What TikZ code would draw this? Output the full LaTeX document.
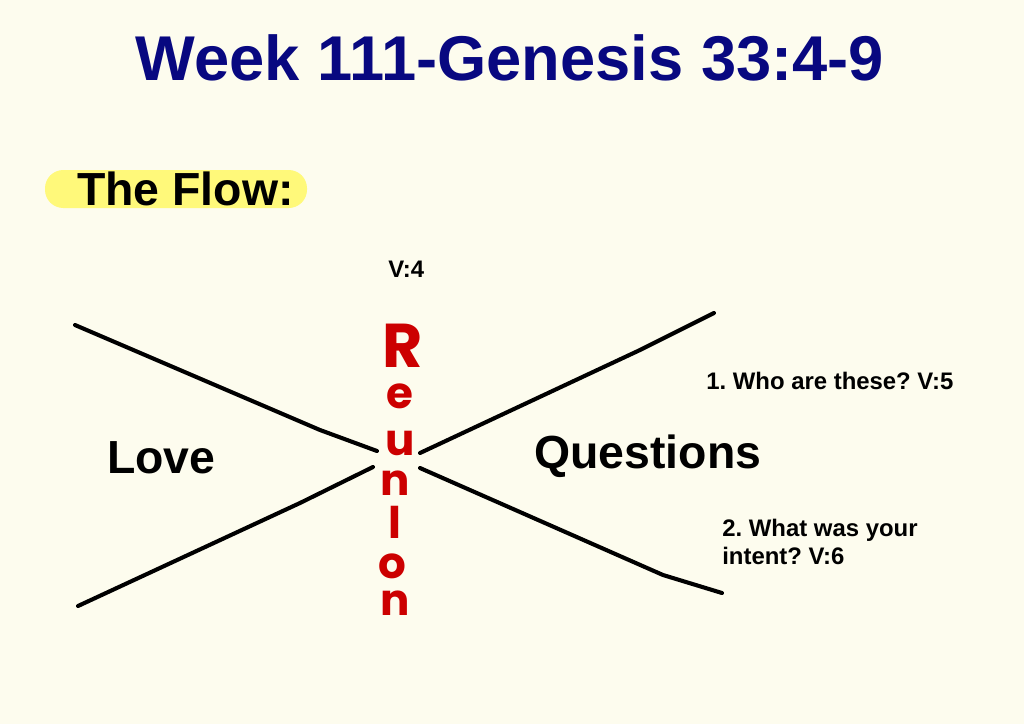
\documentclass[tikz,border=0pt]{standalone}
\usepackage{fontspec}
\setmainfont{Liberation Sans}
\newfontfamily\handfont{Poppins}
\usepackage{xcolor}
\definecolor{titleblue}{RGB}{8,8,128}
\definecolor{reunionred}{RGB}{204,0,0}
\definecolor{hiliteyellow}{RGB}{255,249,122}
\definecolor{paper}{RGB}{253,252,238}
\usetikzlibrary{positioning}
\frenchspacing

\begin{document}
\begin{tikzpicture}[x=0.025cm,y=-0.025cm,
  arm/.style={line width=2.9pt,line cap=round,line join=round},
  bigword/.style={font=\fontsize{33}{38}\selectfont\bfseries,anchor=base west,inner sep=0pt},
  note/.style={font=\fontsize{17}{20}\selectfont\bfseries,anchor=base west,inner sep=0pt,align=left},
  letter/.style={font=\fontsize{31}{34}\handfont\bfseries,text=reunionred,anchor=base,inner sep=0pt}
]
  \fill[paper] (0,0) rectangle (1024,724);
  \useasboundingbox (0,0) rectangle (1024,724);
  % Title
  \node[font=\fontsize{45}{50}\selectfont\bfseries,text=titleblue,anchor=base,inner sep=0pt]
    (title) at (510,80) {Week 111-Genesis 33:4-9};
  % Highlighted heading
  \fill[hiliteyellow,rounded corners=13pt] (45,170) rectangle (307,208);
  \node[bigword] (flow) at (77,205) {The Flow:};
  % Arms of the X
  \coordinate (lovetop) at (75,325);
  \coordinate (lovetopbend) at (320,430);
  \coordinate (lovetopend) at (377,451);
  \coordinate (lovebot) at (78,606);
  \coordinate (lovebotbend) at (300,503);
  \coordinate (lovebotend) at (373,467);
  \coordinate (questop) at (714,313);
  \coordinate (questopbend) at (640,350);
  \coordinate (questopend) at (420,453);
  \coordinate (quesbot) at (722,593);
  \coordinate (quesbotbend) at (663,575);
  \coordinate (quesbotend) at (420,468);
  \draw[arm] (lovetop) -- (lovetopbend) -- (lovetopend);
  \draw[arm] (lovebot) -- (lovebotbend) -- (lovebotend);
  \draw[arm] (questopend) -- (questopbend) -- (questop);
  \draw[arm] (quesbotend) -- (quesbotbend) -- (quesbot);
  % Words
  \node[bigword] (love) at (107,473) {Love};
  \node[bigword] (questions) at (534,468) {Questions};
  \node[note] (verse4) at (388,277) {V:4};
  \node[note] (q1) at (706,389) {1. Who are these? V:5};
  \node[note,anchor=north west] (q2) at (722,519) {2. What was your\\intent? V:6};
  % Reunion, one letter at a time
  \node[letter,font=\fontsize{44}{46}\handfont\bfseries] (reunion1) at (403,367) {R};
  \foreach \ch/\lx/\ly [count=\i from 2] in {e/400/408,u/400/455,n/395/495,l/395/538,o/392/578,n/395/615}
    \node[letter] (reunion\i) at (\lx,\ly) {\ch};
\end{tikzpicture}
\end{document}
